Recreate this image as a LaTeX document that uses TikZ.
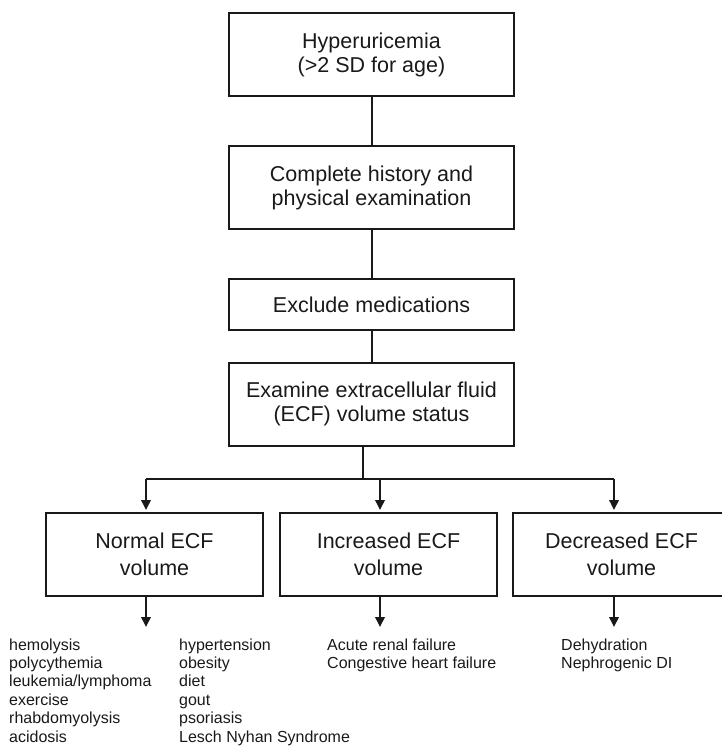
\documentclass[tikz,border=0pt]{standalone}
\usepackage{fontspec}
\setmainfont{Liberation Sans}
\usetikzlibrary{arrows.meta}
\begin{document}
\begin{tikzpicture}[x=1pt,y=-1pt,
  boxtext/.style={font=\fontsize{21.5}{24}\selectfont},
  flowbox/.style={draw=black!90, line width=2pt, inner sep=0pt, align=center, boxtext, text=black!90},
  topbox/.style={flowbox, minimum width=285pt},
  lowbox/.style={flowbox, minimum width=217pt, minimum height=83pt, font=\fontsize{21.5}{26.5}\selectfont},
  link/.style={draw=black!90, line width=1.9pt},
  arr/.style={link, -{Triangle[length=10pt,width=9.5pt]}},
  listtxt/.style={font=\fontsize{16}{18}\selectfont, inner sep=0pt, anchor=base west, text=black!90}]
\useasboundingbox (0,0) rectangle (721,746);

\node[topbox, minimum height=83pt] (b1) at (371.5,54.5) {Hyperuricemia\\(>2 SD for age)};
\node[topbox, minimum height=83pt] (b2) at (371.5,187.5) {Complete history and\\physical examination};
\node[topbox, minimum height=51pt] (b3) at (371.5,304.5) {Exclude medications};
\node[topbox, minimum height=83pt] (b4) at (371.5,404) {Examine extracellular fluid\\(ECF) volume status};

\node[lowbox] (n1) at (154.5,554.5) {Normal ECF\\volume};
\node[lowbox] (n2) at (388.5,554.5) {Increased ECF\\volume};
\node[lowbox] (n3) at (621.5,554.5) {Decreased ECF\\volume};

\coordinate (c) at (372,0);
\draw[link] (b1.south -| c) -- (b2.north -| c);
\draw[link] (b2.south -| c) -- (b3.north -| c);
\draw[link] (b3.south -| c) -- (b4.north -| c);

\coordinate (j) at (363,479);
\coordinate (jl) at (146,479);
\coordinate (jm) at (380,479);
\coordinate (jr) at (614,479);
\draw[link] (b4.south -| j) -- (j);
\draw[link] (jl) -- (jr);
\draw[arr, shorten >=2pt] (jl) -- (jl |- n1.north);
\draw[arr, shorten >=2pt] (jm) -- (jm |- n2.north);
\draw[arr, shorten >=2pt] (jr) -- (jr |- n3.north);

\coordinate (t1) at (146,627);
\coordinate (t2) at (380,627);
\coordinate (t3) at (614,627);
\draw[arr] (t1 |- n1.south) -- (t1);
\draw[arr] (t2 |- n2.south) -- (t2);
\draw[arr] (t3 |- n3.south) -- (t3);

\foreach \t [count=\i] in {hemolysis, polycythemia, {leukemia/lymphoma}, exercise, rhabdomyolysis, acidosis}
  \node[listtxt] (la\i) at (9,{650+18.46*(\i-1)}) {\t};
\foreach \t [count=\i] in {hypertension, obesity, diet, gout, psoriasis, {Lesch Nyhan Syndrome}}
  \node[listtxt] (lb\i) at (179,{650+18.46*(\i-1)}) {\t};
\foreach \t [count=\i] in {{Acute renal failure}, {Congestive heart failure}}
  \node[listtxt] (lc\i) at (327,{650+18.46*(\i-1)}) {\t};
\foreach \t [count=\i] in {Dehydration, {Nephrogenic DI}}
  \node[listtxt] (ld\i) at (561,{650+18.46*(\i-1)}) {\t};
\end{tikzpicture}
\end{document}
